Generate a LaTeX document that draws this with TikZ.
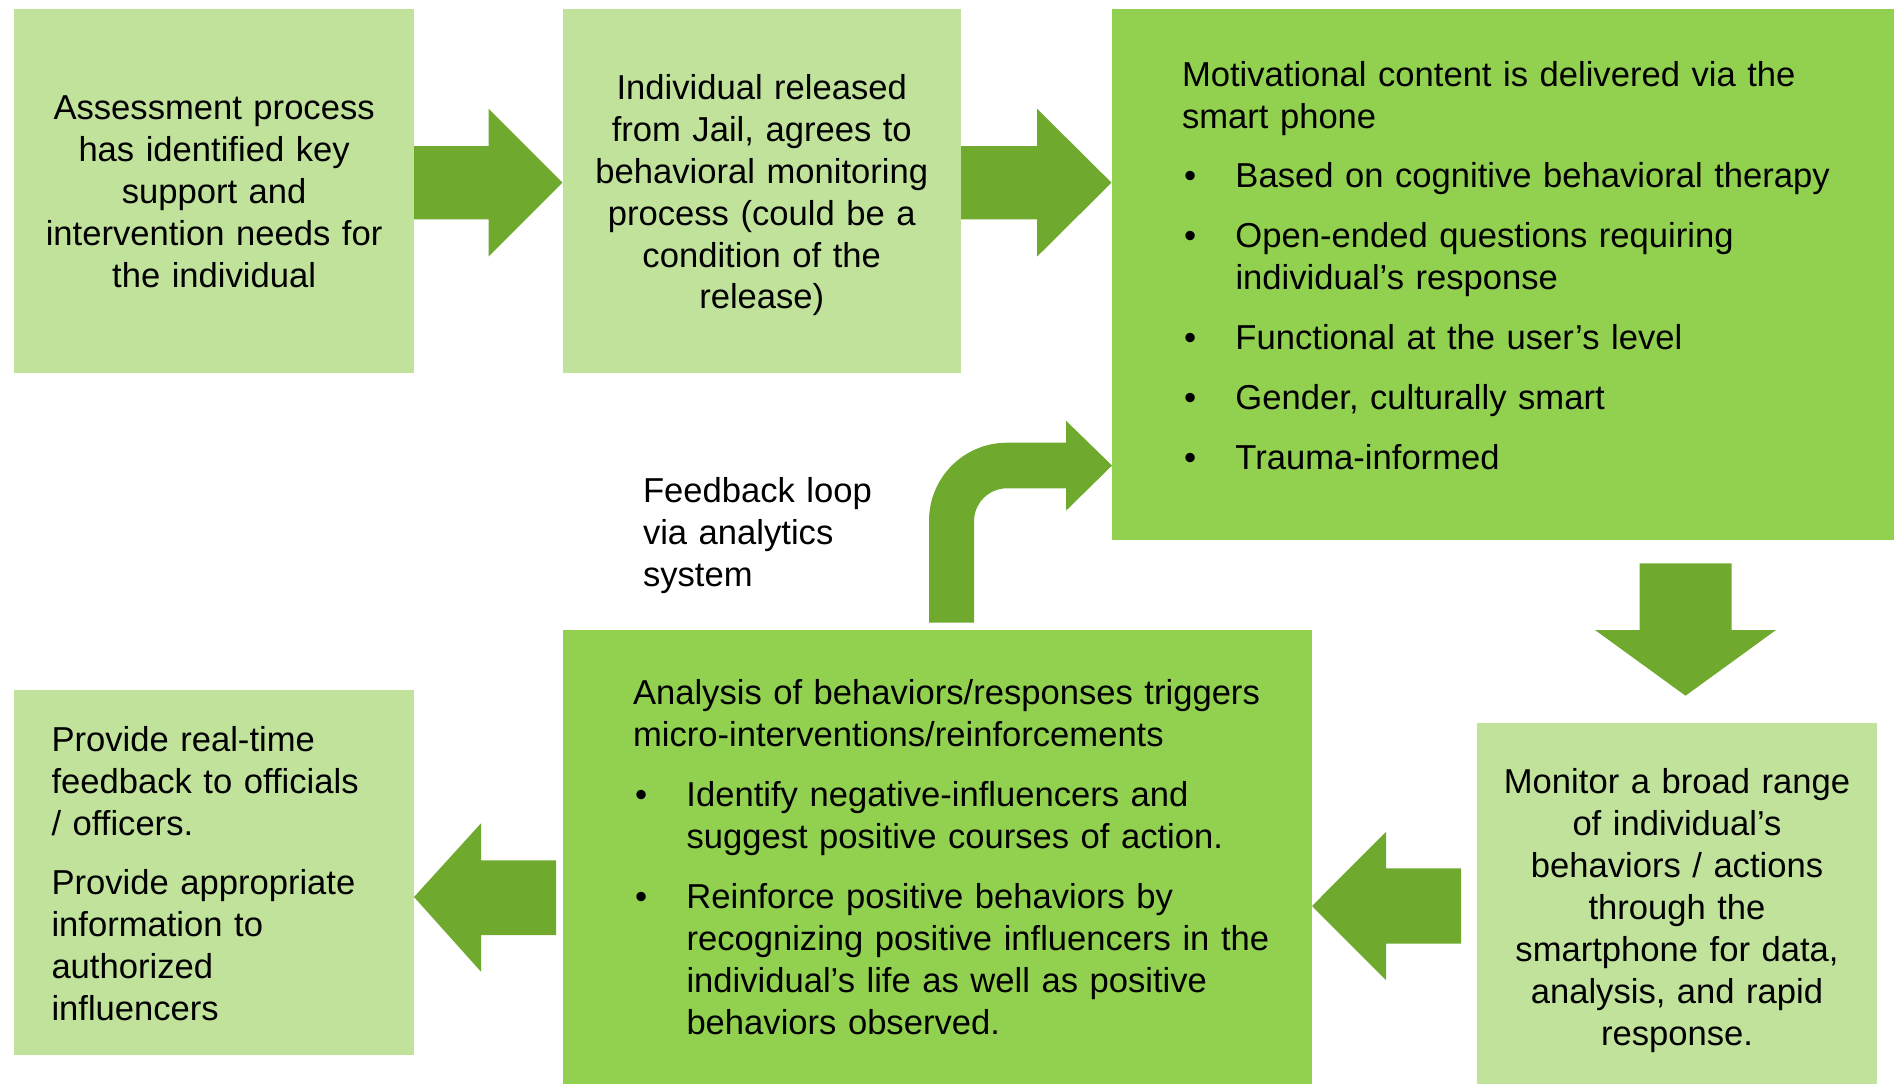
\documentclass[tikz,border=0pt]{standalone}
\usepackage{fontspec}
\setmainfont{Liberation Sans}
\setlength{\parindent}{0pt}
\definecolor{lightg}{HTML}{C1E29B}
\definecolor{midg}{HTML}{92D050}
\definecolor{arrg}{HTML}{6FAA2E}
\newcommand{\fs}{\fontsize{34.6pt}{42pt}\selectfont}
\newcommand{\st}{\rule{0pt}{30pt}}
\newcommand{\bul}{\makebox[53.5pt][l]{\hspace{2pt}•}}
\newcommand{\ind}{\hspace*{53.5pt}}
\tikzset{
  lbox/.style={fill=lightg, draw=none, inner sep=0pt, outer sep=0pt},
  mbox/.style={fill=midg, draw=none, inner sep=0pt, outer sep=0pt},
  arr/.style={fill=arrg, draw=none},
  txt/.style={inner sep=0pt, outer sep=0pt, font=\fs, text=black},
}
\begin{document}
\begin{tikzpicture}[x=1pt, y=-1pt]
\useasboundingbox (0,0) rectangle (1896,1084);
% boxes
\node[lbox, minimum width=399.8pt, minimum height=364pt] (b1) at (214.1,191) {};
\node[lbox, minimum width=398.5pt, minimum height=364pt] (b2) at (761.75,191) {};
\node[mbox, minimum width=782pt, minimum height=531pt] (b3) at (1503,274.5) {};
\node[lbox, minimum width=400pt, minimum height=361pt] (b4) at (1677,903.5) {};
\node[mbox, minimum width=749pt, minimum height=454pt] (b5) at (937.5,857) {};
\node[lbox, minimum width=399.8pt, minimum height=365pt] (b6) at (214.1,872.5) {};
% texts
\node[txt, anchor=north, text width=390pt, align=center] (t1) at (214.1,89)
  {\st Assessment process\\ has identified key\\ support and\\ intervention needs for\\ the individual};
\node[txt, anchor=north, text width=390pt, align=center] (t2) at (761.75,69)
  {\st Individual released\\ from Jail, agrees to\\ behavioral monitoring\\ process (could be a\\ condition of the\\ release)};
\node[txt, anchor=north west, text width=660pt, align=left] (t3) at (1182,56)
  {\st Motivational content is delivered via the\\ smart phone\\[17.9pt]
   \bul Based on cognitive behavioral therapy\\[17.9pt]
   \bul Open-ended questions requiring\\ \ind individual’s response\\[17.9pt]
   \bul Functional at the user’s level\\[17.9pt]
   \bul Gender, culturally smart\\[17.9pt]
   \bul Trauma-informed};
\node[txt, anchor=north, text width=390pt, align=center] (t4) at (1677,763)
  {\st Monitor a broad range\\ of individual’s\\ behaviors / actions\\ through the\\ smartphone for data,\\ analysis, and rapid\\ response.};
\node[txt, anchor=north west, text width=650pt, align=left] (t5) at (633,674.3)
  {\st Analysis of behaviors/responses triggers\\ micro-interventions/reinforcements\\[17.9pt]
   \bul Identify negative-influencers and\\ \ind suggest positive courses of action.\\[17.9pt]
   \bul Reinforce positive behaviors by\\ \ind recognizing positive influencers in the\\ \ind individual’s life as well as positive\\ \ind behaviors observed.};
\node[txt, anchor=north west, text width=340pt, align=left] (t6) at (51.5,721)
  {\st Provide real-time\\ feedback to officials\\ / officers.\\[17.9pt]
   Provide appropriate\\ information to\\ authorized\\ influencers};
\node[txt, anchor=north west, text width=250pt, align=left] (tf) at (643,472.5)
  {\st Feedback loop\\ via analytics\\ system};
% arrows
\fill[arr] (b1.east |- 0,146) -- (488.5,146) -- (488.5,108.7) -- (b2.west |- 0,182.7) -- (488.5,256.7) -- (488.5,219.4) -- (b1.east |- 0,219.4) -- cycle;
\fill[arr] (b2.east |- 0,146) -- (1037,146) -- (1037,108.7) -- (1111.5,182.7) -- (1037,256.7) -- (1037,219.4) -- (b2.east |- 0,219.4) -- cycle;
\fill[arr] (1639.5,563.3) -- (1731.5,563.3) -- (1731.5,630) -- (1776,630) -- (1685.5,695.7) -- (1595,630) -- (1639.5,630) -- cycle;
\fill[arr] (1461,868.3) -- (1386,868.3) -- (1386,831.8) -- (b5.east |- 0,906) -- (1386,980.2) -- (1386,943.5) -- (1461,943.5) -- cycle;
\fill[arr] (556,860.3) -- (481,860.3) -- (481,823.3) -- (b6.east |- 0,897) -- (481,971.7) -- (481,935) -- (556,935) -- cycle;
\fill[arr] (929,622.7) -- (929,520.7) .. controls (929,477.6) and (963.9,442.7) .. (1007,442.7) -- (1066,442.7) -- (1066,420.7) -- (b3.west |- 0,465.5) -- (1066,510.7) -- (1066,488.3) -- (1007,488.3) .. controls (988.8,488.3) and (974,503.1) .. (974,521.3) -- (974,622.7) -- cycle;
\end{tikzpicture}
\end{document}
